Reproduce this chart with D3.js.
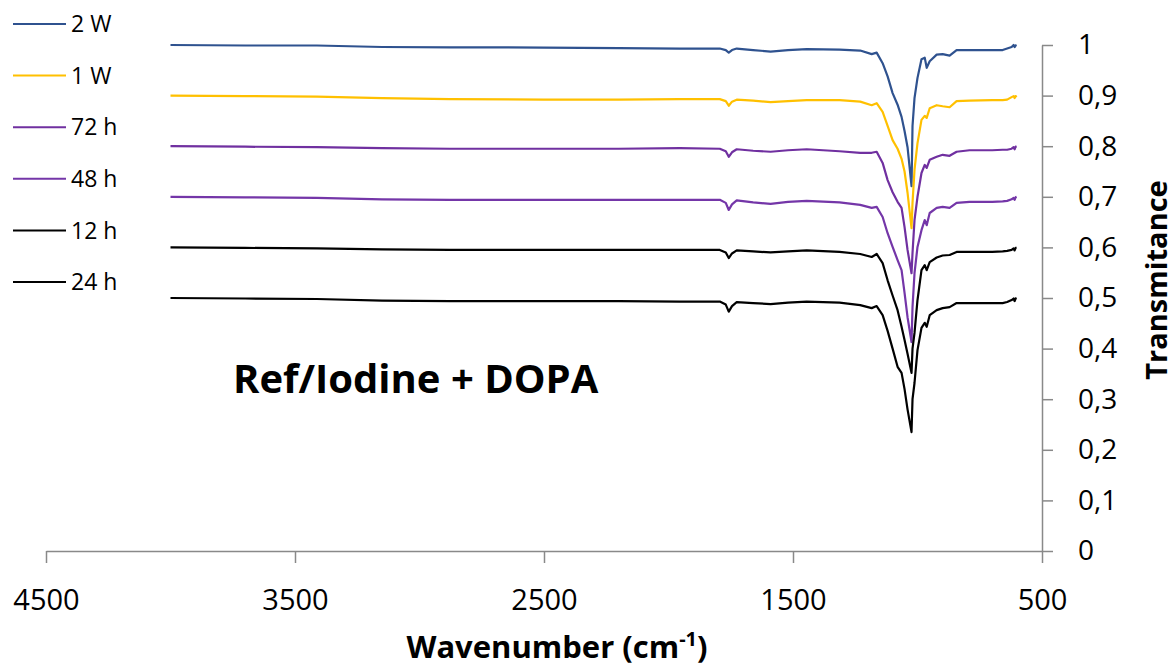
<!DOCTYPE html>
<html>
<head>
<meta charset="utf-8">
<script src="https://cdn.jsdelivr.net/npm/d3@7"></script>
<style>
  body { margin: 0; background: #fff; }
  svg { display: block; font-family: "Open Sans", sans-serif; }
</style>
</head>
<body>
<div id="chart"></div>
<script>
const width = 1176;
const height = 670;

// wavenumber grid (cm-1), shared by all series
const wavenumbers = [
  4000, 3700, 3412, 3150, 2878, 2500, 2200, 1955, 1794, 1770,
  1758, 1745, 1726, 1660, 1590, 1520, 1445, 1313, 1230, 1184,
  1164, 1140, 1120, 1100, 1080, 1064, 1052, 1040, 1024, 1020,
  1012, 1000, 984, 971, 963, 951, 923, 899, 871, 843,
  791, 700, 658, 640, 622, 614, 610, 606, 602
];

const t2W = [
  1.000, 0.999, 0.999, 0.996, 0.9955, 0.995, 0.994, 0.993, 0.993, 0.990,
  0.985, 0.990, 0.993, 0.990, 0.987, 0.990, 0.992, 0.991, 0.989, 0.982,
  0.985, 0.964, 0.938, 0.905, 0.882, 0.858, 0.830, 0.798, 0.721, 0.840,
  0.895, 0.935, 0.972, 0.975, 0.955, 0.968, 0.981, 0.982, 0.979, 0.990,
  0.990, 0.990, 0.990, 0.993, 0.996, 1.000, 0.996, 0.999, 1.000
];
const t1W = [
  0.900, 0.899, 0.898, 0.895, 0.893, 0.892, 0.892, 0.893, 0.893, 0.889,
  0.880, 0.888, 0.892, 0.890, 0.887, 0.889, 0.891, 0.891, 0.888, 0.881,
  0.885, 0.868, 0.840, 0.812, 0.795, 0.775, 0.750, 0.708, 0.638, 0.688,
  0.753, 0.806, 0.852, 0.860, 0.856, 0.875, 0.881, 0.879, 0.877, 0.889,
  0.890, 0.891, 0.891, 0.892, 0.897, 0.899, 0.895, 0.899, 0.897
];
const t72h = [
  0.800, 0.799, 0.798, 0.796, 0.795, 0.795, 0.795, 0.796, 0.795, 0.790,
  0.779, 0.788, 0.794, 0.791, 0.789, 0.792, 0.794, 0.790, 0.787, 0.787,
  0.789, 0.767, 0.733, 0.709, 0.690, 0.678, 0.640, 0.595, 0.549, 0.589,
  0.654, 0.700, 0.747, 0.763, 0.757, 0.773, 0.779, 0.783, 0.781, 0.789,
  0.792, 0.792, 0.793, 0.793, 0.795, 0.798, 0.794, 0.799, 0.800
];
const t48h = [
  0.700, 0.699, 0.698, 0.695, 0.694, 0.694, 0.694, 0.694, 0.694, 0.688,
  0.674, 0.685, 0.693, 0.689, 0.686, 0.690, 0.692, 0.689, 0.684, 0.678,
  0.680, 0.660, 0.628, 0.601, 0.575, 0.555, 0.510, 0.462, 0.413, 0.482,
  0.549, 0.601, 0.634, 0.654, 0.644, 0.668, 0.678, 0.680, 0.678, 0.688,
  0.690, 0.690, 0.691, 0.692, 0.695, 0.698, 0.694, 0.699, 0.700
];
const t12h = [
  0.600, 0.599, 0.598, 0.596, 0.595, 0.595, 0.595, 0.595, 0.595, 0.590,
  0.579, 0.588, 0.594, 0.592, 0.590, 0.592, 0.594, 0.591, 0.587, 0.581,
  0.587, 0.569, 0.535, 0.505, 0.476, 0.443, 0.417, 0.390, 0.352, 0.400,
  0.431, 0.496, 0.555, 0.565, 0.555, 0.571, 0.580, 0.584, 0.585, 0.591,
  0.591, 0.591, 0.592, 0.593, 0.595, 0.598, 0.594, 0.599, 0.599
];
const t24h = [
  0.500, 0.499, 0.498, 0.495, 0.494, 0.494, 0.494, 0.493, 0.493, 0.487,
  0.473, 0.484, 0.492, 0.490, 0.488, 0.491, 0.493, 0.491, 0.486, 0.480,
  0.484, 0.466, 0.435, 0.400, 0.364, 0.352, 0.320, 0.280, 0.235, 0.300,
  0.332, 0.397, 0.441, 0.451, 0.443, 0.466, 0.476, 0.480, 0.482, 0.490,
  0.490, 0.490, 0.490, 0.492, 0.496, 0.499, 0.494, 0.499, 0.500
];

const seriesNames = ["2 W", "1 W", "72 h", "48 h", "12 h", "24 h"];
const seriesValues = [t2W, t1W, t72h, t48h, t12h, t24h];
const seriesColors = ["#2F528F", "#FFC000", "#7030A0", "#7436A8", "#000000", "#000000"];

const xTicks = [4500, 3500, 2500, 1500, 500];
const yTicks = [0, 0.1, 0.2, 0.3, 0.4, 0.5, 0.6, 0.7, 0.8, 0.9, 1];
const yTickLabels = ["0", "0,1", "0,2", "0,3", "0,4", "0,5", "0,6", "0,7", "0,8", "0,9", "1"];

const axisColor = "#898989";

const svg = d3.select("#chart")
  .append("svg")
  .attr("width", width)
  .attr("height", height);

// reversed wavenumber axis
const x = d3.scaleLinear()
  .domain([4500, 500])
  .range([46, 1042]);

const y = d3.scaleLinear()
  .domain([0, 1])
  .range([551, 45]);

// X axis
const xAxis = svg.append("g")
  .attr("transform", `translate(0,${y(0)})`)
  .call(d3.axisBottom(x).tickValues(xTicks).tickSize(12).tickSizeOuter(0).tickPadding(0)
    .tickFormat(d3.format("d")));
xAxis.select(".domain").attr("stroke", axisColor).attr("stroke-width", 1.5);
xAxis.selectAll(".tick line").attr("stroke", axisColor).attr("stroke-width", 1.5);
xAxis.selectAll(".tick text")
  .attr("y", 59)
  .attr("dy", 0)
  .attr("fill", "#000")
  .style("font-size", "29px")
  .style("font-family", "'Open Sans', sans-serif");

// Y axis on the right
const yAxis = svg.append("g")
  .attr("transform", `translate(${x(500)},0)`)
  .call(d3.axisRight(y).tickValues(yTicks).tickSize(11).tickSizeOuter(0).tickPadding(25)
    .tickFormat((d, i) => yTickLabels[i]));
yAxis.select(".domain").attr("stroke", axisColor).attr("stroke-width", 1.5);
yAxis.selectAll(".tick line").attr("stroke", axisColor).attr("stroke-width", 1.5);
yAxis.selectAll(".tick text")
  .attr("fill", "#000")
  .style("font-size", "28px")
  .style("font-family", "'Open Sans', sans-serif");

// spectra
const line = d3.line()
  .x((d, i) => x(wavenumbers[i]))
  .y(d => y(d));

svg.selectAll("path.series")
  .data(seriesValues)
  .enter()
  .append("path")
  .attr("class", "series")
  .attr("fill", "none")
  .attr("stroke", (d, i) => seriesColors[i])
  .attr("stroke-width", 2.2)
  .attr("stroke-linejoin", "round")
  .attr("d", line);

// legend
const legend = svg.append("g");
seriesNames.forEach((name, i) => {
  const ly = 24 + i * 51.6;
  legend.append("line")
    .attr("x1", 13).attr("x2", 66)
    .attr("y1", ly).attr("y2", ly)
    .attr("stroke", seriesColors[i])
    .attr("stroke-width", 2);
  legend.append("text")
    .attr("x", 71)
    .attr("y", ly)
    .attr("dy", "0.36em")
    .style("font-size", "23px")
    .text(name);
});

// annotation
svg.append("text")
  .attr("x", 233)
  .attr("y", 393)
  .style("font-size", "40px")
  .style("font-weight", "bold")
  .text("Ref/Iodine + DOPA");

// X axis label
const xLabel = svg.append("text")
  .attr("x", 557)
  .attr("y", 658)
  .attr("text-anchor", "middle")
  .style("font-size", "31px")
  .style("font-weight", "bold");
xLabel.append("tspan").text("Wavenumber (cm");
xLabel.append("tspan").attr("dy", -12).style("font-size", "20px").text("-1");
xLabel.append("tspan").attr("dy", 12).text(")");

// Y axis label
svg.append("text")
  .attr("transform", "translate(1167,280) rotate(-90)")
  .attr("text-anchor", "middle")
  .style("font-size", "29px")
  .style("font-weight", "bold")
  .text("Transmitance");
</script>
</body>
</html>
